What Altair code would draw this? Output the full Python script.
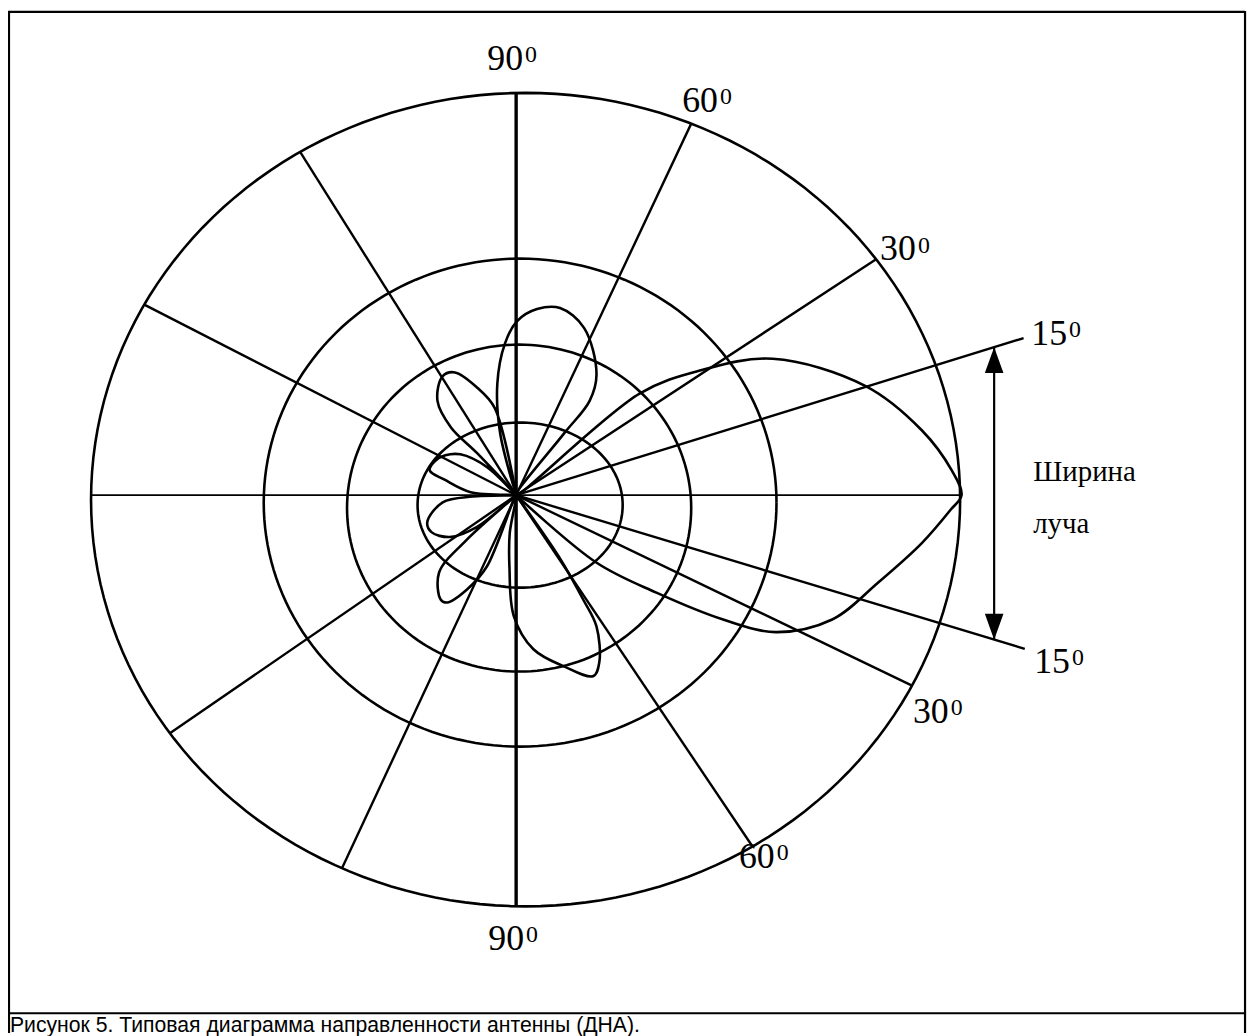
import altair as alt
import pandas as pd
import numpy as np

# ---------------- data ----------------
# concentric rings (normalised to the outer ring): horizontal / vertical radius
ring_rx = [1.0, 0.59, 0.396, 0.236]
ring_ry = [1.0, 0.60, 0.402, 0.203]

# radial spokes: direction (deg, as drawn); None = runs to the outer ring
spoke_angle = [0, 180, 90, 270, 66.2, 35.0, 18.3, -17.9, -27.2, -57.8, 120.5, 151.3, 216.3, 246.4]
spoke_length = [None, None, None, None, None, None, 1.23, 1.23, None, None, None, None, None, None]

# antenna pattern traced as (angle deg, relative radius) points, lobes meet in the centre
pattern_angle = [
    0,
    -41.9, -36.6, -32.7, -29.4, -22.8, -14.5, -7.2, -2.1, 0, 3.5, 9.7, 18.5, 29.6, 36, 41.3,
    0,
    54, 53.9, 58.2, 69.2, 77.6, 84, 89.7, 94, 99, 103.6,
    0,
    103, 108.7, 115, 120, 128, 132, 131,
    0,
    134, 142, 149, 156, 163, 167, 176,
    0,
    182, 186, 198, 205, 214, 221,
    0,
    224, 227, 236, 239, 244, 249,
    0,
    261, 265, 269, 276, 284.6, 291.8, 295, 299.8, 301, 303,
    0,
]
pattern_radius = [
    0,
    0.249, 0.402, 0.566, 0.686, 0.789, 0.86, 0.941, 1.0, 1.025, 1.004, 0.947, 0.847, 0.679, 0.52, 0.378,
    0,
    0.187, 0.287, 0.351, 0.44, 0.471, 0.46, 0.428, 0.373, 0.277, 0.156,
    0,
    0.221, 0.279, 0.333, 0.338, 0.294, 0.224, 0.136,
    0,
    0.095, 0.163, 0.19, 0.205, 0.208, 0.169, 0.105,
    0,
    0.10, 0.17, 0.215, 0.215, 0.184, 0.119,
    0,
    0.16, 0.26, 0.31, 0.308, 0.258, 0.188,
    0,
    0.094, 0.177, 0.298, 0.381, 0.435, 0.479, 0.453, 0.372, 0.30, 0.18,
    0,
]

angle_labels = ["90", "60", "30", "15", "15", "30", "60", "90"]
degree_mark = "0"
beam_labels = ["Ширина", "луча"]
caption_text = "Рисунок 5. Типовая диаграмма направленности антенны (ДНА)."

# ---------------- layout ----------------
W, H = 1250, 1028
CX, CY = 511, 487          # pattern centre in plot pixels
SX, SY = 437.0, 409.0      # pixels per unit of the outer ring
ring_dx = [9.5, 4, 3, 4]   # ring centre offsets from pattern centre (px)
ring_dy = [-4.5, -7.5, -13, -10]
ARROW_X = 1.10
SERIF = "Liberation Serif"
NUM_SIZE, SUP_SIZE = 36, 24

xs = alt.Scale(domain=[-CX / SX, (W - CX) / SX], range=[0, W], nice=False, zero=False)
ys = alt.Scale(domain=[-(H - CY) / SY, CY / SY], range=[H, 0], nice=False, zero=False)
X = lambda f: alt.X(f, type="quantitative", scale=xs, axis=None)
Y = lambda f: alt.Y(f, type="quantitative", scale=ys, axis=None)

# rings
t = np.radians(np.arange(0, 361, 2))
ring_rows = []
for k, (rx, ry) in enumerate(zip(ring_rx, ring_ry)):
    for i, a in enumerate(t):
        ring_rows.append({"ring": k, "i": i,
                          "x": ring_dx[k] / SX + rx * np.cos(a),
                          "y": ring_dy[k] / SY + ry * np.sin(a)})
rings = alt.Chart(pd.DataFrame(ring_rows)).mark_line(color="black", strokeWidth=2.6).encode(
    x=X("x"), y=Y("y"), detail="ring:N", order="i:Q"
)


def to_outer_ring(angle_deg):
    """length along a spoke from the pattern centre to the (offset) outer ring"""
    a = np.radians(angle_deg)
    c, s = np.cos(a), np.sin(a)
    ox, oy = ring_dx[0] / SX, ring_dy[0] / SY
    rx, ry = ring_rx[0], ring_ry[0]
    A = (c / rx) ** 2 + (s / ry) ** 2
    B = -2 * (ox * c / rx ** 2 + oy * s / ry ** 2)
    C = (ox / rx) ** 2 + (oy / ry) ** 2 - 1
    return (-B + np.sqrt(B * B - 4 * A * C)) / (2 * A)


lengths = [L if L is not None else to_outer_ring(a) for a, L in zip(spoke_angle, spoke_length)]

# spokes
spokes_df = pd.DataFrame({"angle": spoke_angle, "length": lengths,
                          "w": [1.8, 1.8, 3.4, 3.4] + [2.4] * (len(spoke_angle) - 4)})
spokes = alt.Chart(spokes_df).transform_calculate(
    x0="0", y0="0",
    x1="datum.length * cos(datum.angle * PI / 180)",
    y1="datum.length * sin(datum.angle * PI / 180)",
).mark_rule(color="black").encode(
    x=X("x0"), y=Y("y0"), x2="x1:Q", y2="y1:Q",
    strokeWidth=alt.StrokeWidth("w:Q", scale=None),
)

# antenna pattern
pat_df = pd.DataFrame({"i": range(len(pattern_angle)), "angle": pattern_angle, "r": pattern_radius})
pattern = alt.Chart(pat_df).transform_calculate(
    x="datum.r * cos(datum.angle * PI / 180)",
    y="datum.r * sin(datum.angle * PI / 180)",
).mark_line(color="black", strokeWidth=2.6, interpolate="catmull-rom").encode(
    x=X("x:Q"), y=Y("y:Q"), order="i:Q"
)

# beam-width arrow between the two 15° spokes
a_up = np.radians(spoke_angle[6])
a_dn = np.radians(spoke_angle[7])
arrow_df = pd.DataFrame({"x": [ARROW_X], "ytop": [ARROW_X * np.tan(a_up)], "ybot": [ARROW_X * np.tan(a_dn)]})
arrow_base = alt.Chart(arrow_df)
shaft = arrow_base.mark_rule(color="black", strokeWidth=2.2).encode(x=X("x"), y=Y("ytop"), y2="ybot:Q")
head_up = arrow_base.mark_point(shape="M0,0L-0.36,1L0.36,1Z", size=2704, filled=True,
                                color="black", opacity=1).encode(x=X("x"), y=Y("ytop"))
head_dn = arrow_base.mark_point(shape="M0,0L-0.36,-1L0.36,-1Z", size=2704, filled=True,
                                color="black", opacity=1).encode(x=X("x"), y=Y("ybot"))

# angle labels: number + raised small "0" (pixel positions in plot coordinates, left edge / baseline)
lab_px = [482, 678, 877, 1029, 1032, 910, 735, 483]
lab_py = [59, 102, 251, 336, 666, 716, 862, 944]
lab_df = pd.DataFrame({"t": angle_labels, "px": lab_px, "py": lab_py})
lab_df["sx"] = lab_df["px"] + NUM_SIZE + 2
lab_df["sy"] = lab_df["py"] - 8
lab_df["s"] = degree_mark
nums = alt.Chart(lab_df).mark_text(
    font=SERIF, fontSize=NUM_SIZE, align="left", baseline="alphabetic", color="black"
).encode(x=alt.X("px:Q", scale=None, axis=None), y=alt.Y("py:Q", scale=None, axis=None), text="t:N")
sups = alt.Chart(lab_df).mark_text(
    font=SERIF, fontSize=SUP_SIZE, align="left", baseline="alphabetic", color="black"
).encode(x=alt.X("sx:Q", scale=None, axis=None), y=alt.Y("sy:Q", scale=None, axis=None), text="s:N")

beam_df = pd.DataFrame({"t": beam_labels, "px": [1031, 1031], "py": [473, 525]})
beam = alt.Chart(beam_df).mark_text(
    font=SERIF, fontSize=29, align="left", baseline="alphabetic", color="black"
).encode(x=alt.X("px:Q", scale=None, axis=None), y=alt.Y("py:Q", scale=None, axis=None), text="t:N")

caption = alt.Chart(pd.DataFrame({"t": [caption_text]})).mark_text(
    font="Liberation Sans", fontSize=21.3, align="left", baseline="alphabetic", color="black"
).encode(x=alt.value(2), y=alt.value(1027), text="t:N")

# frame (table cell borders)
frame_rules = [
    dict(x=0, x2=W - 6, y=1, y2=1),
    dict(x=0, x2=W - 6, y=1008, y2=1008),
    dict(x=1, x2=1, y=0, y2=H),
    dict(x=W - 6, x2=W - 6, y=0, y2=H),
]
frame = [
    alt.Chart(pd.DataFrame({"d": [0]})).mark_rule(color="black", strokeWidth=2.2).encode(
        x=alt.value(f["x"]), x2=alt.value(f["x2"]), y=alt.value(f["y"]), y2=alt.value(f["y2"])
    )
    for f in frame_rules
]

chart = alt.layer(
    rings, spokes, pattern, shaft, head_up, head_dn, nums, sups, beam, caption, *frame
).properties(
    width=W, height=H, padding=0, autosize="none", background="white"
).configure_view(stroke=None)

chart.save("out.html", embed_options={"renderer": "svg", "actions": False})
